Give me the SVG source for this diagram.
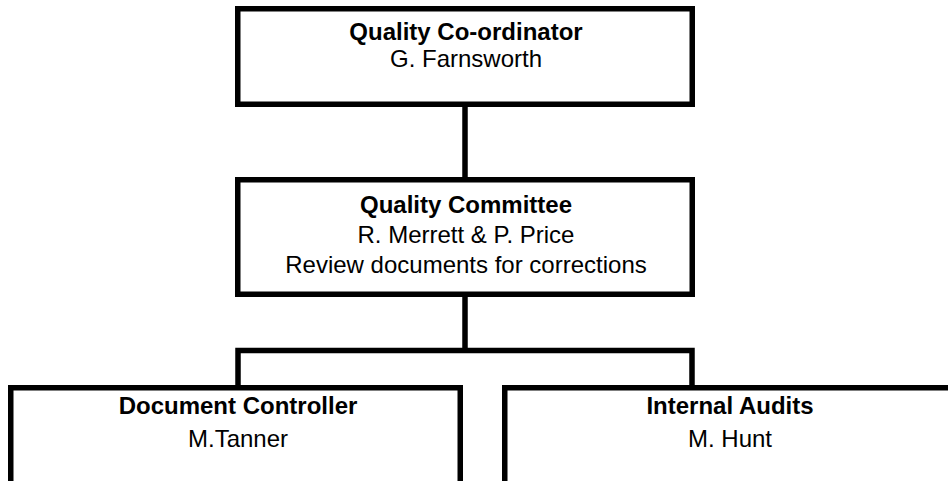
<svg xmlns="http://www.w3.org/2000/svg" width="948" height="481" viewBox="0 0 948 481">
<style>
.box{fill:#fff;stroke:#000;stroke-width:5.5}
.conn{fill:none;stroke:#000;stroke-width:5.5;stroke-linejoin:miter}
text{font-family:"Liberation Sans",Arial,sans-serif;font-size:24px;fill:#000;text-anchor:middle}
.b{font-weight:bold}
</style>
<rect width="948" height="481" fill="#fff"/>
<g id="connectors">
<path class="conn" d="M465,104 V180"/>
<path class="conn" d="M465,294 V350.5"/>
<path class="conn" d="M238,388 V350.5 H692 V388"/>
</g>
<g id="n_coordinator">
<rect class="box" x="237.75" y="8.75" width="454.5" height="95.5"/>
<text class="b" x="466" y="40">Quality Co-ordinator</text>
<text x="466" y="67">G. Farnsworth</text>
</g>
<g id="n_committee">
<rect class="box" x="237.75" y="179.75" width="454.5" height="114.5"/>
<text class="b" x="466" y="213">Quality Committee</text>
<text x="466" y="243">R. Merrett &amp; P. Price</text>
<text x="466" y="273">Review documents for corrections</text>
</g>
<g id="n_doc_controller">
<rect class="box" x="10.75" y="387.75" width="449.5" height="120"/>
<text class="b" x="238" y="414">Document Controller</text>
<text x="238" y="447">M.Tanner</text>
</g>
<g id="n_internal_audits">
<rect class="box" x="504.75" y="387.75" width="449.5" height="120"/>
<text class="b" x="730" y="414">Internal Audits</text>
<text x="730" y="447">M. Hunt</text>
</g>
</svg>
